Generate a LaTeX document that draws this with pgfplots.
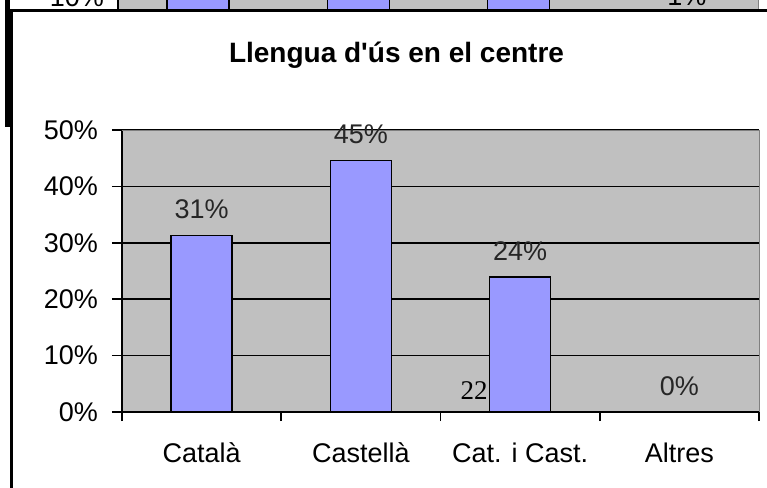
\documentclass[border=0pt]{standalone}
\usepackage{fontspec}
\setmainfont{Liberation Sans}[Ligatures=TeXOff]
\newfontfamily\seriffont{Liberation Serif}
\usepackage{pgfplots}
\pgfplotsset{compat=1.18}
\definecolor{plotgray}{HTML}{C0C0C0}
\definecolor{barblue}{HTML}{9999FF}
\definecolor{bordergray}{HTML}{808080}

\begin{document}
\begin{tikzpicture}[x=1pt,y=1pt]
\path[use as bounding box] (0,0) rectangle (383.5,244);

% fragment of the chart above (only its lower edge shows)
\begin{axis}[
    at={(59pt,231.4pt)}, anchor=south west,
    scale only axis, width=320.5pt, height=141pt,
    xmin=-0.5, xmax=3.5, ymin=0, ymax=100,
    axis lines*=left, axis line style={black, line width=0.8pt},
    axis background/.style={fill=plotgray},
    xtick=\empty, ytick={10}, yticklabels={10\%},
    tick style={draw=none},
    ticklabel style={font=\fontsize{13.5}{15}\selectfont},
    yticklabel style={xshift=-3.5pt},
    ybar, bar width=31pt,
    clip=false
]
\addplot[fill=barblue, draw=black, line width=0.8pt] coordinates {(0,30) (1,42) (2,35) (3,1)};
\draw[bordergray, line width=0.5pt] (rel axis cs:0,1) -- (rel axis cs:1,1) -- (rel axis cs:1,0);
\node[anchor=base, yshift=8.5pt, font=\fontsize{13.5}{15}\selectfont] at (axis cs:3.05,1) {1\%};
\end{axis}

% frame of this chart
\fill[white] (5,0) rectangle (383.5,239.5);
\fill[black] (5,238) rectangle (383.5,239.5);
\fill[black] (5,0) rectangle (6.5,239.5);
\fill[black] (2.5,180.5) rectangle (5,244);

\node[anchor=base, font=\bfseries\fontsize{14}{17}\selectfont] at (198.25,212.5) {Llengua d'ús en el centre};

\begin{axis}[
    at={(61pt,38pt)}, anchor=south west,
    scale only axis, width=318.5pt, height=141pt,
    xmin=-0.5, xmax=3.5, ymin=0, ymax=50,
    axis lines*=left, axis line style={black, line width=0.8pt},
    axis background/.style={fill=plotgray},
    ymajorgrids, grid style={black, line width=0.8pt},
    ytick={0,10,...,50}, yticklabels={0\%,10\%,20\%,30\%,40\%,50\%},
    tick align=outside, major tick length=5pt,
    tick style={black, line width=0.8pt},
    xtick={0,1,2,3}, xticklabels={Català,Castellà,Cat. i Cast.,Altres},
    xtick style={draw=none},
    extra x ticks={-0.5,0.5,1.5,2.5,3.5}, extra x tick labels={},
    extra x tick style={grid=none, major tick length=4.5pt, xtick style={draw=black, line width=0.8pt}},
    ticklabel style={font=\fontsize{13.5}{15}\selectfont},
    yticklabel style={anchor=east, xshift=-3.5pt},
    xticklabel style={anchor=base, yshift=-20pt, font=\fontsize{13.5}{15}\selectfont},
    ybar, bar width=30.5pt,
    nodes near coords={\pgfmathprintnumber[fixed,precision=0]{\pgfplotspointmeta}\%},
    every node near coord/.append style={anchor=base, yshift=8.5pt, text=black!85, font=\fontsize{13.5}{15}\selectfont},
    /pgf/number format/assume math mode=true,
    clip=false
]
\addplot[fill=barblue, draw=black, line width=0.8pt] coordinates {(0,31.3) (1,44.6) (2,23.9) (3,0)};
\draw[bordergray, line width=0.5pt] (rel axis cs:0,1) -- (rel axis cs:1,1) -- (rel axis cs:1,0);
\node[anchor=base east, inner sep=0pt, font=\seriffont\fontsize{13.5}{15}\selectfont] at (axis cs:1.798,2.13) {22};
\end{axis}
\end{tikzpicture}
\end{document}
